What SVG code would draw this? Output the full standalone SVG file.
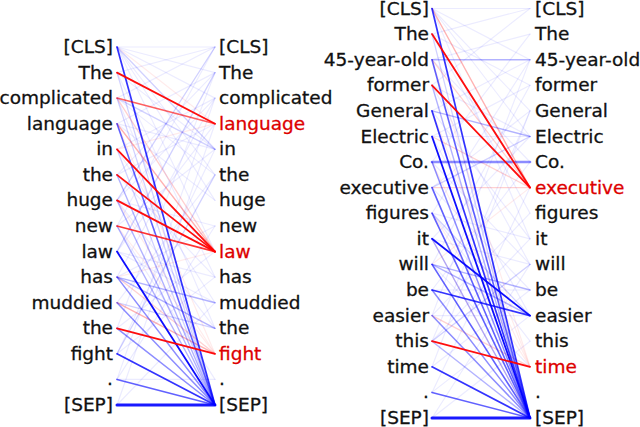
<svg xmlns="http://www.w3.org/2000/svg" width="640" height="427" viewBox="0 0 640 427">
<style>
text{font-family:"DejaVu Sans","Noto Sans",sans-serif;font-size:18.5px;fill:#111;stroke:#111;stroke-width:0.3}
.l{text-anchor:end}
.hl{fill:#dd0000;stroke:#dd0000}
line{fill:none;stroke-linecap:round}
.b{stroke:#0000ff}
.r{stroke:#ff0000}
.f{stroke-width:1.2;stroke-opacity:0.08}
.w1{stroke-width:1.3;stroke-opacity:0.18}
.w2{stroke-width:1.4;stroke-opacity:0.3}
.w3{stroke-width:1.5;stroke-opacity:0.45}
.w4{stroke-width:1.6;stroke-opacity:0.62}
.w5{stroke-width:1.7;stroke-opacity:0.8}
.w6{stroke-width:1.8;stroke-opacity:0.95}
.thick{stroke-width:3;stroke-opacity:0.9}
</style>
<rect width="640" height="427" fill="#fff"/>
<g id="connectors">
<g id="left-connectors">
<g class="b f">
<line x1="117" y1="47" x2="215" y2="47"/><line x1="117" y1="47" x2="215" y2="72.6"/><line x1="117" y1="47" x2="215" y2="98.1"/><line x1="117" y1="47" x2="215" y2="174.9"/><line x1="117" y1="47" x2="215" y2="200.4"/><line x1="117" y1="47" x2="215" y2="251.6"/>
<line x1="117" y1="72.6" x2="215" y2="47"/><line x1="117" y1="72.6" x2="215" y2="149.3"/><line x1="117" y1="72.6" x2="215" y2="277.1"/>
<line x1="117" y1="98.1" x2="215" y2="47"/><line x1="117" y1="98.1" x2="215" y2="174.9"/><line x1="117" y1="98.1" x2="215" y2="328.3"/>
<line x1="117" y1="123.7" x2="215" y2="72.6"/><line x1="117" y1="123.7" x2="215" y2="200.4"/><line x1="117" y1="123.7" x2="215" y2="149.3"/>
<line x1="117" y1="149.3" x2="215" y2="98.1"/><line x1="117" y1="149.3" x2="215" y2="302.7"/>
<line x1="117" y1="174.9" x2="215" y2="72.6"/><line x1="117" y1="174.9" x2="215" y2="123.7"/><line x1="117" y1="174.9" x2="215" y2="277.1"/>
<line x1="117" y1="200.4" x2="215" y2="98.1"/><line x1="117" y1="200.4" x2="215" y2="328.3"/><line x1="117" y1="200.4" x2="215" y2="226"/>
<line x1="117" y1="226" x2="215" y2="47"/><line x1="117" y1="226" x2="215" y2="149.3"/><line x1="117" y1="226" x2="215" y2="379.4"/>
<line x1="117" y1="251.6" x2="215" y2="123.7"/><line x1="117" y1="251.6" x2="215" y2="302.7"/><line x1="117" y1="251.6" x2="215" y2="277.1"/>
<line x1="117" y1="277.1" x2="215" y2="98.1"/><line x1="117" y1="277.1" x2="215" y2="226"/>
<line x1="117" y1="302.7" x2="215" y2="174.9"/>
<line x1="117" y1="328.3" x2="215" y2="72.6"/><line x1="117" y1="328.3" x2="215" y2="251.6"/><line x1="117" y1="328.3" x2="215" y2="353.8"/>
<line x1="117" y1="353.8" x2="215" y2="149.3"/><line x1="117" y1="353.8" x2="215" y2="277.1"/>
<line x1="117" y1="379.4" x2="215" y2="98.1"/><line x1="117" y1="379.4" x2="215" y2="226"/><line x1="117" y1="379.4" x2="215" y2="379.4"/>
<line x1="117" y1="405" x2="215" y2="123.7"/><line x1="117" y1="405" x2="215" y2="302.7"/>
</g>
<g class="r f">
<line x1="117" y1="47" x2="215" y2="123.7"/><line x1="117" y1="123.7" x2="215" y2="353.8"/><line x1="117" y1="226" x2="215" y2="353.8"/><line x1="117" y1="200.4" x2="215" y2="353.8"/><line x1="117" y1="149.3" x2="215" y2="123.7"/><line x1="117" y1="277.1" x2="215" y2="251.6"/>
</g>
<line class="b w1" x1="117" y1="47" x2="215" y2="149.3"/>
<line class="b w1" x1="117" y1="98.1" x2="215" y2="149.3"/>
<line class="b w1" x1="117" y1="251.6" x2="215" y2="72.6"/>
<line class="b w1" x1="117" y1="200.4" x2="215" y2="47"/>
<line class="b w1" x1="117" y1="72.6" x2="215" y2="405"/>
<line class="b w1" x1="117" y1="98.1" x2="215" y2="405"/>
<line class="b w1" x1="117" y1="149.3" x2="215" y2="405"/>
<line class="b w1" x1="117" y1="302.7" x2="215" y2="328.3"/>
<line class="b w1" x1="117" y1="353.8" x2="215" y2="174.9"/>
<line class="r w1" x1="117" y1="98.1" x2="215" y2="251.6"/>
<line class="r w1" x1="117" y1="277.1" x2="215" y2="353.8"/>
<line class="r w2" x1="117" y1="123.7" x2="215" y2="251.6"/>
<line class="r w2" x1="117" y1="302.7" x2="215" y2="353.8"/>
<line class="b w2" x1="117" y1="174.9" x2="215" y2="405"/>
<line class="b w2" x1="117" y1="200.4" x2="215" y2="405"/>
<line class="b w2" x1="117" y1="226" x2="215" y2="405"/>
<line class="b w2" x1="117" y1="277.1" x2="215" y2="302.7"/>
<line class="b w2" x1="117" y1="277.1" x2="215" y2="328.3"/>
<line class="b w3" x1="117" y1="277.1" x2="215" y2="405"/>
<line class="b w3" x1="117" y1="302.7" x2="215" y2="405"/>
<line class="b w3" x1="117" y1="328.3" x2="215" y2="405"/>
<line class="b w4" x1="117" y1="123.7" x2="215" y2="405"/>
<line class="b w4" x1="117" y1="379.4" x2="215" y2="405"/>
<line class="b w5" x1="117" y1="47" x2="215" y2="405"/>
<line class="b w5" x1="117" y1="353.8" x2="215" y2="405"/>
<line class="b w6" x1="117" y1="251.6" x2="215" y2="405"/>
<line class="b thick" x1="117" y1="405" x2="215" y2="405"/>
<line class="r w4" x1="117" y1="98.1" x2="215" y2="123.7"/>
<line class="r w5" x1="117" y1="226" x2="215" y2="251.6"/>
<line class="r w6" x1="117" y1="72.6" x2="215" y2="123.7"/>
<line class="r w6" x1="117" y1="149.3" x2="215" y2="251.6"/>
<line class="r w6" x1="117" y1="174.9" x2="215" y2="251.6"/>
<line class="r w6" x1="117" y1="200.4" x2="215" y2="251.6"/>
<line class="r w6" x1="117" y1="328.3" x2="215" y2="353.8"/>
</g>
<g id="right-connectors">
<g class="b f">
<line x1="432" y1="8.5" x2="530" y2="8.5"/><line x1="432" y1="8.5" x2="530" y2="59.7"/><line x1="432" y1="8.5" x2="530" y2="110.9"/><line x1="432" y1="8.5" x2="530" y2="136.5"/><line x1="432" y1="8.5" x2="530" y2="238.8"/>
<line x1="432" y1="34.1" x2="530" y2="8.5"/><line x1="432" y1="34.1" x2="530" y2="85.3"/><line x1="432" y1="34.1" x2="530" y2="213.2"/>
<line x1="432" y1="59.7" x2="530" y2="34.1"/><line x1="432" y1="59.7" x2="530" y2="162"/>
<line x1="432" y1="85.3" x2="530" y2="8.5"/><line x1="432" y1="85.3" x2="530" y2="136.5"/><line x1="432" y1="85.3" x2="530" y2="264.4"/>
<line x1="432" y1="110.9" x2="530" y2="59.7"/><line x1="432" y1="110.9" x2="530" y2="238.8"/>
<line x1="432" y1="136.5" x2="530" y2="85.3"/><line x1="432" y1="136.5" x2="530" y2="315.6"/><line x1="432" y1="136.5" x2="530" y2="136.5"/>
<line x1="432" y1="162" x2="530" y2="34.1"/><line x1="432" y1="162" x2="530" y2="264.4"/>
<line x1="432" y1="187.6" x2="530" y2="110.9"/><line x1="432" y1="187.6" x2="530" y2="290"/>
<line x1="432" y1="213.2" x2="530" y2="59.7"/><line x1="432" y1="213.2" x2="530" y2="341.2"/><line x1="432" y1="213.2" x2="530" y2="238.8"/>
<line x1="432" y1="238.8" x2="530" y2="136.5"/><line x1="432" y1="238.8" x2="530" y2="264.4"/>
<line x1="432" y1="264.4" x2="530" y2="85.3"/><line x1="432" y1="264.4" x2="530" y2="366.8"/>
<line x1="432" y1="290" x2="530" y2="162"/><line x1="432" y1="290" x2="530" y2="290"/>
<line x1="432" y1="315.6" x2="530" y2="213.2"/><line x1="432" y1="315.6" x2="530" y2="59.7"/><line x1="432" y1="315.6" x2="530" y2="315.6"/>
<line x1="432" y1="341.2" x2="530" y2="238.8"/><line x1="432" y1="341.2" x2="530" y2="110.9"/>
<line x1="432" y1="366.8" x2="530" y2="290"/><line x1="432" y1="366.8" x2="530" y2="110.9"/>
<line x1="432" y1="392.4" x2="530" y2="315.6"/><line x1="432" y1="392.4" x2="530" y2="187.6"/>
<line x1="432" y1="418" x2="530" y2="264.4"/><line x1="432" y1="418" x2="530" y2="341.2"/>
</g>
<g class="r f">
<line x1="432" y1="110.9" x2="530" y2="366.8"/><line x1="432" y1="162" x2="530" y2="366.8"/><line x1="432" y1="238.8" x2="530" y2="418"/><line x1="432" y1="213.2" x2="530" y2="366.8"/><line x1="432" y1="59.7" x2="530" y2="366.8"/><line x1="432" y1="264.4" x2="530" y2="187.6"/>
</g>
<line class="r w1" x1="432" y1="59.7" x2="530" y2="187.6"/>
<line class="r w1" x1="432" y1="187.6" x2="530" y2="187.6"/>
<line class="r w1" x1="432" y1="136.5" x2="530" y2="187.6"/>
<line class="r w1" x1="432" y1="315.6" x2="530" y2="366.8"/>
<line class="r w2" x1="432" y1="8.5" x2="530" y2="187.6"/>
<line class="b w1" x1="432" y1="34.1" x2="530" y2="418"/>
<line class="b w1" x1="432" y1="213.2" x2="530" y2="315.6"/>
<line class="b w1" x1="432" y1="341.2" x2="530" y2="264.4"/>
<line class="b w1" x1="432" y1="187.6" x2="530" y2="136.5"/>
<line class="b w2" x1="432" y1="85.3" x2="530" y2="418"/>
<line class="b w2" x1="432" y1="238.8" x2="530" y2="418"/>
<line class="b w2" x1="432" y1="341.2" x2="530" y2="418"/>
<line class="b w2" x1="432" y1="110.9" x2="530" y2="136.5"/>
<line class="b w2" x1="432" y1="264.4" x2="530" y2="290"/>
<line class="b w2" x1="432" y1="264.4" x2="530" y2="315.6"/>
<line class="b w2" x1="432" y1="59.7" x2="530" y2="59.7"/>
<line class="b w3" x1="432" y1="290" x2="530" y2="418"/>
<line class="b w3" x1="432" y1="315.6" x2="530" y2="418"/>
<line class="b w3" x1="432" y1="162" x2="530" y2="418"/>
<line class="b w4" x1="432" y1="213.2" x2="530" y2="418"/>
<line class="b w4" x1="432" y1="264.4" x2="530" y2="418"/>
<line class="b w4" x1="432" y1="59.7" x2="530" y2="418"/>
<line class="b w4" x1="432" y1="187.6" x2="530" y2="418"/>
<line class="b w4" x1="432" y1="392.4" x2="530" y2="418"/>
<line class="b w5" x1="432" y1="8.5" x2="530" y2="418"/>
<line class="b w5" x1="432" y1="110.9" x2="530" y2="418"/>
<line class="b w5" x1="432" y1="366.8" x2="530" y2="418"/>
<line class="b w5" x1="432" y1="290" x2="530" y2="315.6"/>
<line class="b w6" x1="432" y1="136.5" x2="530" y2="418"/>
<line class="b w6" x1="432" y1="238.8" x2="530" y2="315.6"/>
<line class="b w3" x1="432" y1="162" x2="530" y2="162" style="stroke-width:2.6"/>
<line class="b thick" x1="432" y1="418" x2="530" y2="418"/>
<line class="r w6" x1="432" y1="34.1" x2="530" y2="187.6"/>
<line class="r w6" x1="432" y1="85.3" x2="530" y2="187.6"/>
<line class="r w6" x1="432" y1="341.2" x2="530" y2="366.8"/>
</g>
</g>
<g id="left-sentence-a">
<text class="l" x="113" y="53">[CLS]</text>
<text class="l" x="113" y="78.6">The</text>
<text class="l" x="113" y="104.1">complicated</text>
<text class="l" x="113" y="129.7">language</text>
<text class="l" x="113" y="155.3">in</text>
<text class="l" x="113" y="180.9">the</text>
<text class="l" x="113" y="206.4">huge</text>
<text class="l" x="113" y="232">new</text>
<text class="l" x="113" y="257.6">law</text>
<text class="l" x="113" y="283.1">has</text>
<text class="l" x="113" y="308.7">muddied</text>
<text class="l" x="113" y="334.3">the</text>
<text class="l" x="113" y="359.8">fight</text>
<text class="l" x="113" y="385.4">.</text>
<text class="l" x="113" y="411">[SEP]</text>
</g>
<g id="right-sentence-a">
<text x="219" y="53">[CLS]</text>
<text x="219" y="78.6">The</text>
<text x="219" y="104.1">complicated</text>
<text class="hl" x="219" y="129.7">language</text>
<text x="219" y="155.3">in</text>
<text x="219" y="180.9">the</text>
<text x="219" y="206.4">huge</text>
<text x="219" y="232">new</text>
<text class="hl" x="219" y="257.6">law</text>
<text x="219" y="283.1">has</text>
<text x="219" y="308.7">muddied</text>
<text x="219" y="334.3">the</text>
<text class="hl" x="219" y="359.8">fight</text>
<text x="219" y="385.4">.</text>
<text x="219" y="411">[SEP]</text>
</g>
<g id="left-sentence-b">
<text class="l" x="429" y="14.5">[CLS]</text>
<text class="l" x="429" y="40.1">The</text>
<text class="l" x="429" y="65.7">45-year-old</text>
<text class="l" x="429" y="91.3">former</text>
<text class="l" x="429" y="116.9">General</text>
<text class="l" x="429" y="142.5">Electric</text>
<text class="l" x="429" y="168">Co.</text>
<text class="l" x="429" y="193.6">executive</text>
<text class="l" x="429" y="219.2">figures</text>
<text class="l" x="429" y="244.8">it</text>
<text class="l" x="429" y="270.4">will</text>
<text class="l" x="429" y="296">be</text>
<text class="l" x="429" y="321.6">easier</text>
<text class="l" x="429" y="347.2">this</text>
<text class="l" x="429" y="372.8">time</text>
<text class="l" x="429" y="398.4">.</text>
<text class="l" x="429" y="424">[SEP]</text>
</g>
<g id="right-sentence-b">
<text x="535" y="14.5">[CLS]</text>
<text x="535" y="40.1">The</text>
<text x="535" y="65.7">45-year-old</text>
<text x="535" y="91.3">former</text>
<text x="535" y="116.9">General</text>
<text x="535" y="142.5">Electric</text>
<text x="535" y="168">Co.</text>
<text class="hl" x="535" y="193.6">executive</text>
<text x="535" y="219.2">figures</text>
<text x="535" y="244.8">it</text>
<text x="535" y="270.4">will</text>
<text x="535" y="296">be</text>
<text x="535" y="321.6">easier</text>
<text x="535" y="347.2">this</text>
<text class="hl" x="535" y="372.8">time</text>
<text x="535" y="398.4">.</text>
<text x="535" y="424">[SEP]</text>
</g>
</svg>
